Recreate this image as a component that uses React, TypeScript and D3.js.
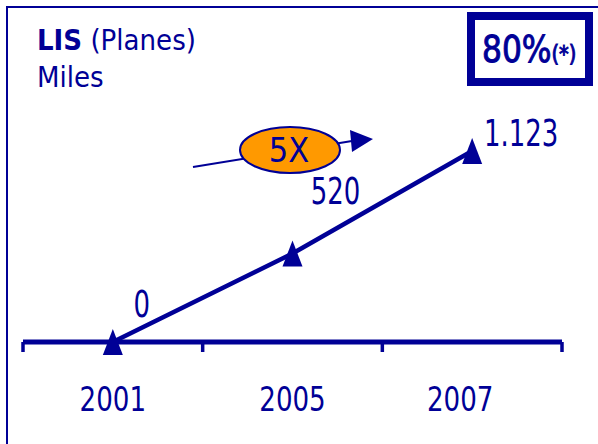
import React, { useEffect, useRef } from "react";
import * as d3 from "d3";

const years = ["2001", "2005", "2007"];
const miles = [0, 520, 1123];
const valueLabels = ["0", "520", "1.123"];
const badgeMain = "80%";
const badgeNote = "(*)";
const growth = "5X";

const NAVY = "#000096";
const ORANGE = "#FF9900";
const FONT = "'DejaVu Sans Condensed', 'DejaVu Sans', sans-serif";

// label offsets from each point (layout only)
const labelOffsets = [
  { dx: 29, dy: -25 },
  { dx: 43, dy: -50 },
  { dx: 49, dy: -5 },
];

const App: React.FC = () => {
  const svgRef = useRef<SVGSVGElement | null>(null);

  useEffect(() => {
    const svg = d3.select(svgRef.current);
    svg.selectAll("*").remove();

    const w = 598;
    const h = 444;
    const axisY = 342;

    svg.attr("width", w).attr("height", h).style("background", "#fff");

    // frame (open on right / bottom)
    svg
      .append("path")
      .attr("d", `M7,${h + 5} L7,7 L${w + 5},7`)
      .attr("fill", "none")
      .attr("stroke", NAVY)
      .attr("stroke-width", 2);

    const x = d3.scaleBand().domain(years).range([23, 562]).padding(0);
    const y = d3.scaleLinear().domain([0, 1123]).range([axisY, 151]);
    const cx = (d: string) => x(d)! + x.bandwidth() / 2;

    // axis
    const axis = svg.append("g");
    axis
      .append("line")
      .attr("x1", x.range()[0])
      .attr("x2", x.range()[1])
      .attr("y1", axisY)
      .attr("y2", axisY)
      .attr("stroke", NAVY)
      .attr("stroke-width", 5);
    const tickXs = [...years.map(d => x(d)!), x.range()[1]];
    axis
      .selectAll(".tick")
      .data(tickXs)
      .enter()
      .append("line")
      .attr("x1", d => d)
      .attr("x2", d => d)
      .attr("y1", axisY)
      .attr("y2", axisY + 10)
      .attr("stroke", NAVY)
      .attr("stroke-width", 3.5);
    axis
      .selectAll(".lbl")
      .data(years)
      .enter()
      .append("text")
      .attr("transform", d => `translate(${cx(d) - (d === "2007" ? 12 : 0)},411) scale(0.88,1)`)
      .attr("text-anchor", "middle")
      .attr("fill", NAVY)
      .style("font-family", FONT)
      .style("font-size", "33px")
      .text(d => d);

    // line
    const pts = years.map((d, i) => [cx(d), y(miles[i])] as [number, number]);
    svg
      .append("path")
      .attr("d", d3.line()(pts))
      .attr("fill", "none")
      .attr("stroke", NAVY)
      .attr("stroke-width", 4.5);

    svg
      .selectAll(".marker")
      .data(pts)
      .enter()
      .append("path")
      .attr("d", d => `M${d[0]},${d[1] - 13} L${d[0] + 10},${d[1] + 13} L${d[0] - 10},${d[1] + 13} Z`)
      .attr("fill", NAVY);

    svg
      .selectAll(".val")
      .data(pts)
      .enter()
      .append("text")
      .attr("transform", (d, i) => `translate(${d[0] + labelOffsets[i].dx},${d[1] + labelOffsets[i].dy}) scale(0.76,1)`)
      .attr("text-anchor", "middle")
      .attr("fill", NAVY)
      .style("font-family", FONT)
      .style("font-size", "38px")
      .text((d, i) => valueLabels[i]);

    // growth callout
    svg
      .append("line")
      .attr("x1", 193)
      .attr("y1", 167)
      .attr("x2", 352)
      .attr("y2", 141)
      .attr("stroke", NAVY)
      .attr("stroke-width", 2);
    svg
      .append("path")
      .attr("d", "M350,130 L373,139 L352,152 Z")
      .attr("fill", NAVY);
    svg
      .append("ellipse")
      .attr("cx", 290)
      .attr("cy", 150)
      .attr("rx", 50)
      .attr("ry", 23)
      .attr("fill", ORANGE)
      .attr("stroke", NAVY)
      .attr("stroke-width", 2);
    svg
      .append("text")
      .attr("x", 289)
      .attr("y", 162)
      .attr("text-anchor", "middle")
      .attr("fill", NAVY)
      .style("font-family", FONT)
      .style("font-size", "34px")
      .text(growth);

    // title
    const t = svg
      .append("text")
      .attr("x", 37)
      .attr("y", 50)
      .attr("fill", NAVY)
      .style("font-family", FONT)
      .style("font-size", "29px");
    t.append("tspan").style("font-weight", "bold").text("LIS");
    t.append("tspan").text(" (Planes)");
    svg
      .append("text")
      .attr("x", 37)
      .attr("y", 87)
      .attr("fill", NAVY)
      .style("font-family", FONT)
      .style("font-size", "29px")
      .text("Miles");

    // badge
    svg
      .append("rect")
      .attr("x", 471)
      .attr("y", 16)
      .attr("width", 118)
      .attr("height", 66)
      .attr("fill", "#fff")
      .attr("stroke", NAVY)
      .attr("stroke-width", 8);
    const b = svg
      .append("text")
      .attr("transform", "translate(482,62) scale(0.94,1)")
      .attr("fill", NAVY)
      .attr("stroke", NAVY)
      .attr("stroke-width", 0.9)
      .style("font-family", FONT);
    b.append("tspan").style("font-size", "37px").text(badgeMain);
    b.append("tspan").style("font-size", "23px").text(badgeNote);
  }, []);

  return (
    <div style={{ position: "absolute", left: 0, top: 0 }}>
      <svg ref={svgRef}></svg>
    </div>
  );
};

export default App;
